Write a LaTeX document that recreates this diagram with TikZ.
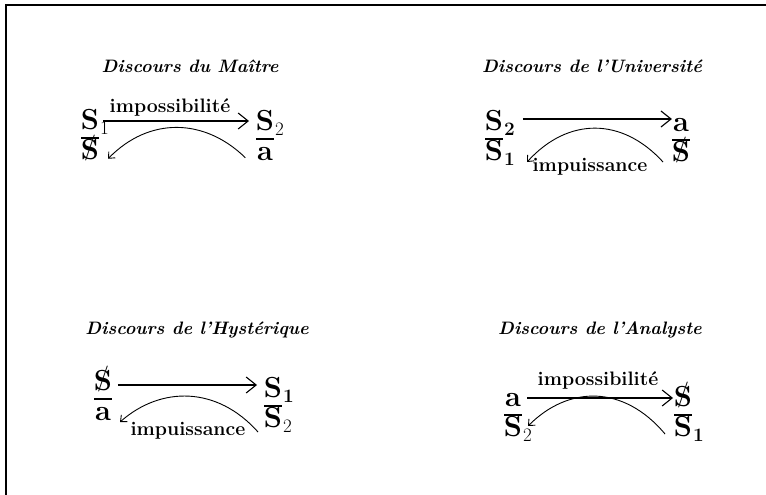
\documentclass[tikz,border=0pt]{standalone}
\usetikzlibrary{arrows.meta}
\newcommand{\barS}{\ooalign{\textbf{S}\cr\hidewidth\raisebox{5pt}{\fontsize{26}{26}\selectfont /}\hidewidth\cr}}
\newcommand{\sS}[1]{\textbf{S}\rlap{\raisebox{-5pt}{\fontsize{19}{19}\selectfont\kern1pt #1}}}
\begin{document}
\begin{tikzpicture}[x=1pt,y=-1pt,
  sym/.style={font=\fontsize{29}{29}\selectfont, inner sep=0pt, anchor=base, text height=20pt, text depth=4pt},
  ttl/.style={font=\fontsize{18}{18}\selectfont\bfseries\itshape, inner sep=0pt, anchor=base},
  lbl/.style={font=\fontsize{19.5}{19.5}\selectfont\bfseries, inner sep=0pt, anchor=base},
  fbar/.style={line width=1.4pt},
  harr/.style={line width=1.1pt, -{Straight Barb[length=10pt,width=16pt,line width=1.1pt]}},
  carr/.style={line width=0.9pt, -{Straight Barb[length=5pt,width=9pt,line width=0.9pt]}},
  framel/.style={line width=2pt}]
\useasboundingbox (0,0) rectangle (766,495);
\fill[white] (0,0) rectangle (766,495);
\draw[framel] (6,495) -- (6,5) -- (766,5);

% ---------------- Top left: Discours du Maitre
\node[ttl] (tlt) at (190,73) {Discours du Maître};
\node[sym] (tlan) at (90,129) {\sS{1}};
\node[sym] (tlad) at (90,159) {\barS};
\draw[fbar] (tlan.base) ++(-9,9) -- ++(18,0);
\node[sym] (tlbn) at (265,130) {\sS{2}};
\node[sym] (tlbd) at (265,160) {\textbf{a}};
\draw[fbar] (tlbn.base) ++(-9,9) -- ++(18,0);
\draw[harr] ([xshift=4pt]tlan.east) -- ([xshift=-6.7pt]tlan.east -| tlbn.west);
\node[lbl] (tll) at (170,113) {impossibilité};
\draw[carr] ([xshift=-11.5pt,yshift=-5.75pt]tlbd.west) .. controls +(-41,-40) and +(41,-42) .. ([xshift=8.8pt,yshift=-7.75pt]tlad.east);

% ---------------- Top right: Discours de l'Universite
\node[ttl] (trt) at (592,73) {Discours de l'Université};
\node[sym] (tran) at (494,130) {\sS{\textbf{2}}};
\node[sym] (trad) at (494,160) {\sS{\textbf{1}}};
\draw[fbar] (tran.base) ++(-9,9) -- ++(18,0);
\node[sym] (trbn) at (681,131) {\textbf{a}};
\node[sym] (trbd) at (681,161) {\barS};
\draw[fbar] (trbn.base) ++(-9,9) -- ++(18,0);
\draw[harr] ([xshift=19.5pt,yshift=3pt]tran.east) -- ([xshift=-1pt,yshift=3pt]tran.east -| trbn.west);
\node[lbl] (trl) at (590,171) {impuissance};
\draw[carr] ([xshift=-8.7pt,yshift=-9pt]trbd.west) .. controls +(-41,-45) and +(41,-45) .. ([xshift=23.8pt,yshift=-10pt]trad.east);

% ---------------- Bottom left: Discours de l'Hysterique
\node[ttl] (blt) at (197,334) {Discours de l'Hystérique};
\node[sym] (blan) at (103,390) {\barS};
\node[sym] (blad) at (103,420) {\textbf{a}};
\draw[fbar] (blan.base) ++(-9,9) -- ++(18,0);
\node[sym] (blbn) at (273,397) {\sS{\textbf{1}}};
\node[sym] (blbd) at (273,427) {\sS{2}};
\draw[fbar] (blbn.base) ++(-9,9) -- ++(18,0);
\draw[harr] ([xshift=5.7pt,yshift=-3pt]blan.east) -- ([xshift=-6.7pt,yshift=-3pt]blan.east -| blbn.west);
\node[lbl] (bll) at (188,435) {impuissance};
\draw[carr] ([xshift=-5.7pt,yshift=-13pt]blbd.west) .. controls +(-41,-46) and +(41,-36) .. ([xshift=8.9pt,yshift=-10pt]blad.east);

% ---------------- Bottom right: Discours de l'Analyste
\node[ttl] (brt) at (600,334) {Discours de l'Analyste};
\node[sym] (bran) at (513,406) {\textbf{a}};
\node[sym] (brad) at (513,436) {\sS{2}};
\draw[fbar] (bran.base) ++(-9,9) -- ++(18,0);
\node[sym] (brbn) at (683,406) {\barS};
\node[sym] (brbd) at (683,436) {\sS{\textbf{1}}};
\draw[fbar] (brbn.base) ++(-9,9) -- ++(18,0);
\draw[harr] ([xshift=6pt]bran.east) -- ([xshift=-0.7pt]bran.east -| brbn.west);
\node[lbl] (brl) at (598,385) {impossibilité};
\draw[carr] ([xshift=-8.7pt,yshift=-6pt]brbd.west) .. controls +(-41,-49) and +(41,-41) .. ([xshift=5.8pt,yshift=2pt]brad.east);
\end{tikzpicture}
\end{document}
